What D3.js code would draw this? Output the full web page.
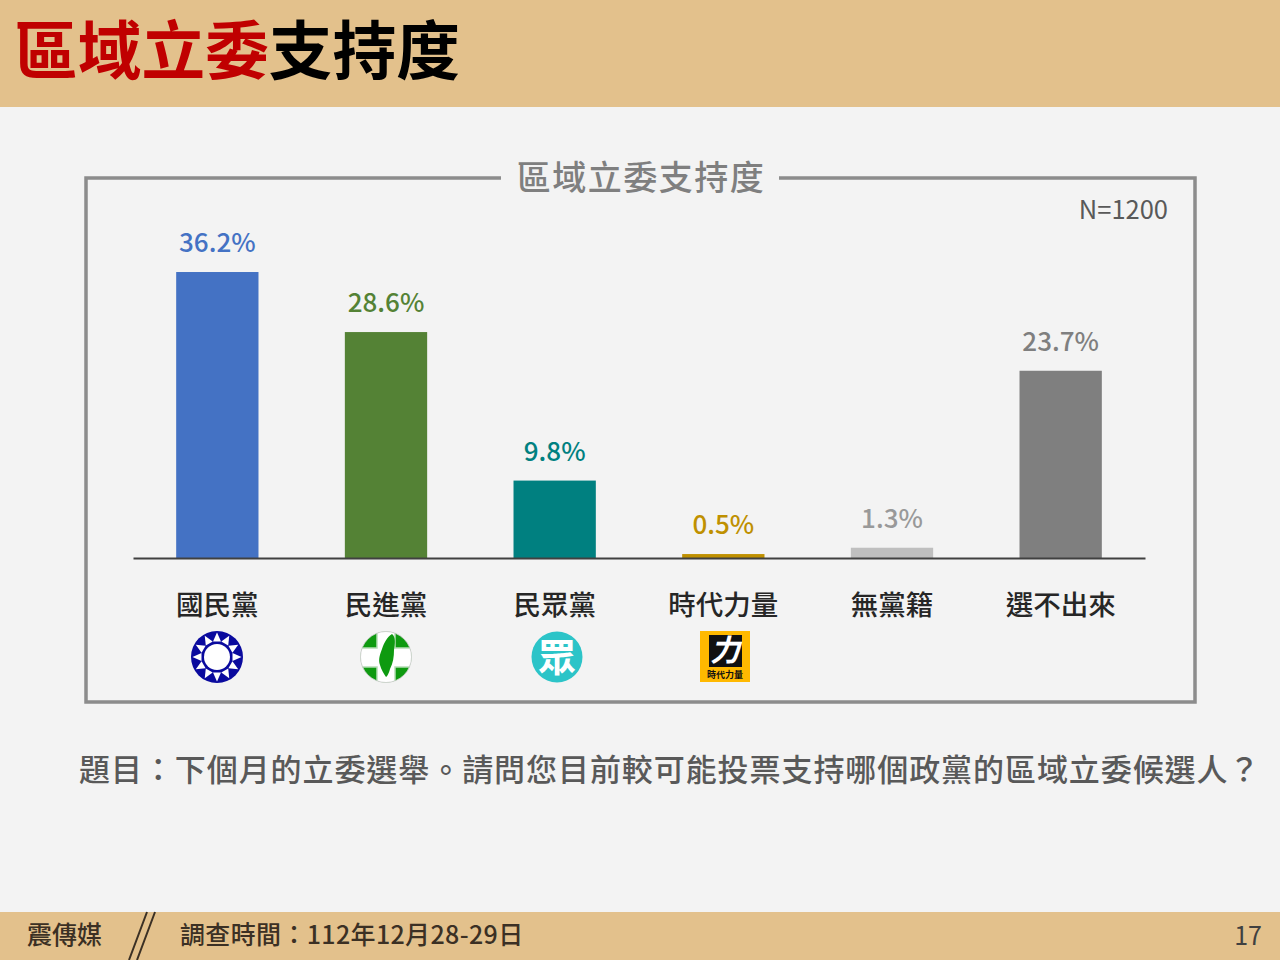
<!DOCTYPE html>
<html lang="zh-Hant">
<meta charset="utf-8">
<style>
    html, body { margin: 0; padding: 0; background: #F3F3F3; }
    svg { display: block; }
    text { font-family: "Noto Sans CJK TC", "Noto Sans", sans-serif; }
</style>
<svg width="1280" height="960"></svg>
<script src="https://d3js.org/d3.v7.min.js"></script>
<script>
    var categories = ["國民黨", "民進黨", "民眾黨", "時代力量", "無黨籍", "選不出來"];
    var values = [36.2, 28.6, 9.8, 0.5, 1.3, 23.7];
    var valueLabels = ["36.2%", "28.6%", "9.8%", "0.5%", "1.3%", "23.7%"];
    var barColors = ["#4472C4", "#548235", "#008080", "#BF9000", "#BFBFBF", "#7F7F7F"];
    var labelColors = ["#4472C4", "#548235", "#008080", "#BF9000", "#999999", "#7F7F7F"];

    var svg = d3.select("svg");
    var tan = "#E3C18C";

    // header and footer bands
    svg.append("rect").attr("width", 1280).attr("height", 107).attr("fill", tan);
    svg.append("rect").attr("y", 912).attr("width", 1280).attr("height", 48).attr("fill", tan);

    var title = svg.append("text").attr("x", 14).attr("y", 74)
        .style("font-size", "63.7px").style("font-weight", 700);
    title.append("tspan").attr("fill", "#C00000").text("區域立委");
    title.append("tspan").attr("fill", "#000000").text("支持度");

    // chart frame, with a gap for its title
    svg.append("path")
        .attr("d", "M501,178H86V702H1195V178H779")
        .attr("fill", "none").attr("stroke", "#8C8C8C").attr("stroke-width", 3.5);
    svg.append("text").attr("x", 641).attr("y", 190).attr("text-anchor", "middle")
        .attr("fill", "#7F7F7F").style("font-size", "34px").style("font-weight", 500).style("letter-spacing", "1.5px")
        .text("區域立委支持度");
    svg.append("text").attr("x", 1168).attr("y", 219).attr("text-anchor", "end")
        .attr("fill", "#595959").style("font-size", "25.5px").text("N=1200");

    var x = d3.scaleBand().domain(categories).range([133, 1145]).paddingInner(0.512).paddingOuter(0.256);
    var y = d3.scaleLinear().domain([0, 40]).range([558, 242]);

    svg.selectAll(".bar")
        .data(values)
        .enter().append("rect")
        .attr("class", "bar")
        .attr("x", function(d, i) { return x(categories[i]); })
        .attr("y", function(d) { return y(d); })
        .attr("width", x.bandwidth())
        .attr("height", function(d) { return y(0) - y(d); })
        .attr("fill", function(d, i) { return barColors[i]; });

    svg.selectAll(".val")
        .data(values)
        .enter().append("text")
        .attr("class", "val")
        .attr("x", function(d, i) { return x(categories[i]) + x.bandwidth() / 2; })
        .attr("y", function(d) { return y(d) - 20; })
        .attr("text-anchor", "middle")
        .attr("fill", function(d, i) { return labelColors[i]; })
        .style("font-size", "26px")
        .style("font-weight", 500)
        .text(function(d, i) { return valueLabels[i]; });

    var axis = svg.append("g")
        .attr("transform", "translate(0,558)")
        .call(d3.axisBottom(x).tickSize(0).tickPadding(37));
    axis.select(".domain").attr("stroke", "#404040").attr("stroke-width", 2);
    axis.selectAll("text")
        .attr("fill", "#262626")
        .style("font-family", '"Noto Sans CJK TC"')
        .style("font-size", "27.5px")
        .style("font-weight", 500);

    // party logos under the axis labels
    var logoY = 657;

    var kmt = svg.append("g").attr("transform", "translate(217," + logoY + ")");
    kmt.append("circle").attr("r", 26).attr("fill", "#0A0A9E");
    d3.range(12).forEach(function(i) {
        kmt.append("path").attr("d", "M-4,-15.5 L0,-24.5 L4,-15.5Z").attr("fill", "#fff")
            .attr("transform", "rotate(" + (i * 30) + ")");
    });
    kmt.append("circle").attr("r", 13).attr("fill", "#fff");

    var dpp = svg.append("g").attr("transform", "translate(386," + logoY + ")");
    dpp.append("clipPath").attr("id", "dppClip").append("circle").attr("r", 25.5);
    var dppInner = dpp.append("g").attr("clip-path", "url(#dppClip)");
    dppInner.append("rect").attr("x", -26).attr("y", -26).attr("width", 52).attr("height", 52).attr("fill", "#0E9A10");
    dppInner.append("path").attr("d", "M-9,-26H9V-9H26V10H9V26H-9V10H-26V-9H-9Z")
        .attr("fill", "#fff").attr("stroke", "#B5DDB5").attr("stroke-width", 1.5);
    dppInner.append("path").attr("d", "M-7,-26H7V-7H26V8H7V26H-7V8H-26V-7H-7Z").attr("fill", "#fff");
    dpp.append("path").attr("d", "M6,-23 C10,-20 9,-13 8,-7 C8,0 7,6 4,12 C3,16 1,20 0,20 C-2,17 -5,12 -6,8 C-8,3 -6,-3 -4,-8 C-2,-14 1,-20 6,-23Z").attr("fill", "#0E9A10");
    dpp.append("circle").attr("r", 25.5).attr("fill", "none").attr("stroke", "#ccc").attr("stroke-width", 0.8);

    var tpp = svg.append("g").attr("transform", "translate(557," + logoY + ")");
    tpp.append("circle").attr("r", 25.5).attr("fill", "#2CC4C8");
    tpp.append("text").attr("text-anchor", "middle").attr("y", 14).attr("fill", "#fff")
        .style("font-size", "38px").style("font-weight", 700).text("眾");

    var npp = svg.append("g").attr("transform", "translate(725," + logoY + ")");
    npp.append("rect").attr("x", -25).attr("y", -26).attr("width", 50).attr("height", 51).attr("fill", "#FFB900");
    npp.append("rect").attr("x", -16).attr("y", -22).attr("width", 33).attr("height", 32).attr("fill", "#111");
    npp.append("text").attr("text-anchor", "middle").attr("y", 4).attr("fill", "#fff")
        .style("font-size", "30px").style("font-weight", 700).style("font-style", "italic").text("力");
    npp.append("text").attr("text-anchor", "middle").attr("y", 21).attr("fill", "#111")
        .style("font-size", "9px").style("font-weight", 700).text("時代力量");

    // question line
    svg.append("text").attr("x", 79).attr("y", 781)
        .attr("fill", "#595959").style("font-size", "31px").style("font-weight", 500)
        .style("letter-spacing", "0.93px")
        .text("題目：下個月的立委選舉。請問您目前較可能投票支持哪個政黨的區域立委候選人？");

    // footer
    svg.append("text").attr("x", 27).attr("y", 944).attr("fill", "#3B3024")
        .style("font-size", "25px").style("font-weight", 500).text("震傳媒");
    svg.append("path").attr("d", "M147,912L129,960M155,912L137,960")
        .attr("stroke", "#3B3024").attr("stroke-width", 2).attr("fill", "none");
    svg.append("text").attr("x", 180).attr("y", 944).attr("fill", "#3B3024")
        .style("font-size", "25px").style("font-weight", 500).style("letter-spacing", "0.35px")
        .text("調查時間：112年12月28-29日");
    svg.append("text").attr("x", 1262).attr("y", 945).attr("text-anchor", "end").attr("fill", "#404040")
        .style("font-size", "25px").text("17");
</script>
</html>
